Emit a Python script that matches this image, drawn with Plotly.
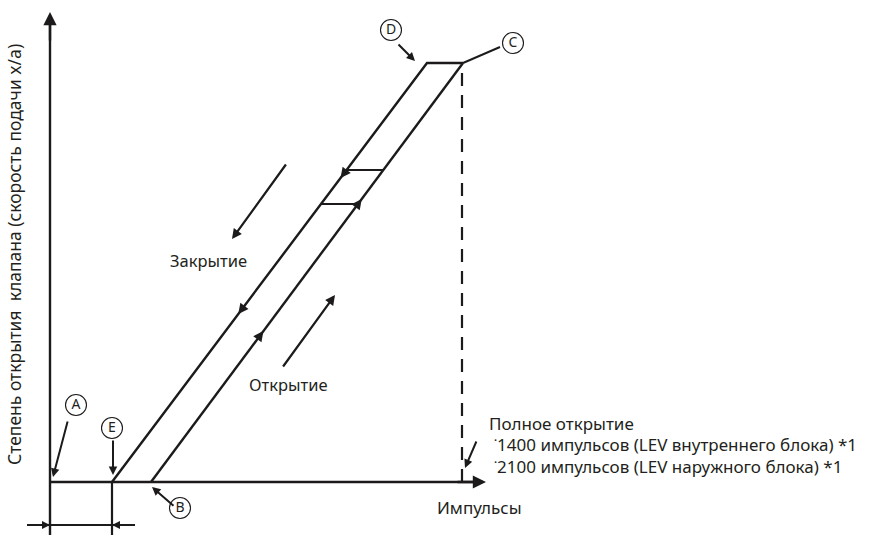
import plotly.graph_objects as go

# Schematic frame: x = pulses (schematic units, 0 at the Y axis),
# y = valve opening (schematic units, 0 on the pulse axis).
X_RANGE = [-50, 821]
Y_RANGE = [-53, 482]

# Characteristic points of the LEV opening curve
PULSE_E = 62      # closing line reaches zero opening
PULSE_B = 101     # opening line starts from zero
PULSE_D = 377     # top of the closing line
PULSE_C = 413     # full open
OPEN_MAX = 419    # full opening level

# Hysteresis steps (opening levels) between the two lines
STEP_LEVELS = [312, 278]
STEP_DIRS = [-1, 1]          # -1: toward closing line, +1: toward opening line
STEP_MARK_POS = [0.65, 0.3]  # where the direction mark sits along each step

# Direction marks on the lines (opening levels)
CLOSE_MARKS = [304, 168]
OPEN_MARKS = [283, 151]

AXIS_Y_TOP = 470
AXIS_X_END = 436

INK = "#1c1a1b"
TXT = "#231f20"
FONT = "Noto Sans"
LW = 2.4


def close_x(y):
    return PULSE_E + (PULSE_D - PULSE_E) * y / OPEN_MAX


def open_x(y):
    return PULSE_B + (PULSE_C - PULSE_B) * y / OPEN_MAX


fig = go.Figure()


def seg(xs, ys, width=LW, dash=None):
    fig.add_trace(go.Scatter(x=xs, y=ys, mode="lines", hoverinfo="skip",
                             line=dict(color=INK, width=width, dash=dash)))


def arrow(x0, y0, x1, y1, size=1.0, width=LW, head=2):
    fig.add_annotation(x=x1, y=y1, ax=x0, ay=y0, xref="x", yref="y",
                       axref="x", ayref="y", text="", showarrow=True,
                       arrowhead=head, arrowsize=size, arrowwidth=width,
                       arrowcolor=INK, standoff=0, startstandoff=0)


def mark(x, y, dx, dy, size=0.85):
    # small arrowhead sitting on a line, pointing along (dx, dy)
    arrow(x - dx * 0.01, y - dy * 0.01, x, y, size=size)


# Axes
seg([0, 0], [-53, AXIS_Y_TOP - 6])
arrow(0, AXIS_Y_TOP - 30, 0, AXIS_Y_TOP, size=1.1)
seg([0, AXIS_X_END - 6], [0, 0])
arrow(AXIS_X_END - 30, 0, AXIS_X_END, 0, size=1.1)

# Closing line E -> D, plateau D -> C, opening line B -> C
seg([PULSE_E, PULSE_D, PULSE_C], [0, OPEN_MAX, OPEN_MAX])
seg([PULSE_B, PULSE_C], [0, OPEN_MAX])

# Full-open dashed guide
seg([PULSE_C - 1, PULSE_C - 1], [0, OPEN_MAX], width=2.2, dash="13px,9px")

# Hysteresis steps
for lvl, d, pos in zip(STEP_LEVELS, STEP_DIRS, STEP_MARK_POS):
    xa, xb = close_x(lvl), open_x(lvl)
    seg([xa, xb], [lvl, lvl], width=2.2)
    mark(xa + (xb - xa) * pos, lvl, d, 0, size=0.8)

# Direction marks on the lines
dxc, dyc = PULSE_D - PULSE_E, OPEN_MAX
for lvl in CLOSE_MARKS:
    mark(close_x(lvl), lvl, -dxc, -dyc)
dxo, dyo = PULSE_C - PULSE_B, OPEN_MAX
for lvl in OPEN_MARKS:
    mark(open_x(lvl), lvl, dxo, dyo)

# Closing / opening hint arrows
arrow(237, 319, 182, 243, size=0.9, width=2.2)
arrow(232, 114, 285, 187, size=0.9, width=2.2)

# Width between zero point and E
seg([-23, 85], [-43, -43], width=2)
seg([PULSE_E, PULSE_E], [0, -53], width=2.2)
arrow(-16, -43, 0, -43, size=0.8, width=2)
arrow(78, -43, PULSE_E, -43, size=0.8, width=2)

# Pointer arrows for the letter markers
arrow(18, 62, 3, 5, size=0.85, width=2)          # A
arrow(63, 43, 63, 7, size=0.85, width=2)         # E
arrow(125, -25, 102, -5, size=0.85, width=2)     # B
arrow(347, 439, 365, 421, size=0.85, width=2)    # D
seg([PULSE_C, 450], [OPEN_MAX, 435], width=2)    # C
arrow(427, 42, 415, 14, size=0.85, width=2)      # full open

# Circled letters
letters = ["A", "E", "B", "D", "C"]
lx = [26, 62, 130, 341, 463]
ly = [77, 54, -26, 452, 439]
fig.add_trace(go.Scatter(x=lx, y=ly, mode="markers+text", text=letters,
                         textposition="middle center", hoverinfo="skip",
                         marker=dict(symbol="circle-open", size=21,
                                     color=INK, line=dict(width=1.1, color=INK)),
                         textfont=dict(family=FONT, size=14, color=TXT)))

# Text labels
def label(x, y, s, anchor="center", size=17, angle=0):
    fig.add_annotation(x=x, y=y, xref="x", yref="y", text=s, showarrow=False,
                       xanchor=anchor, yanchor="middle", textangle=angle,
                       font=dict(family=FONT, size=size, color=TXT))


label(158, 222, "Закрытие", size=16.5)
label(238, 98, "Открытие", size=16.5)
label(429, -25, "Импульсы", size=17)
label(437, 59, "Полное открытие", anchor="left", size=17)
label(442, 38, "˙1400 импульсов (LEV внутреннего блока) *1", anchor="left", size=17)
label(442, 16, "˙2100 импульсов (LEV наружного блока) *1", anchor="left", size=17)
label(-36, 227, "Степень открытия  клапана (скорость подачи x/a)", size=17.5, angle=-90)

fig.update_layout(
    width=871, height=535, margin=dict(l=0, r=0, t=0, b=0),
    paper_bgcolor="white", plot_bgcolor="white", showlegend=False,
    xaxis=dict(range=X_RANGE, visible=False, fixedrange=True),
    yaxis=dict(range=Y_RANGE, visible=False, fixedrange=True),
)

fig.write_html("out.html")
